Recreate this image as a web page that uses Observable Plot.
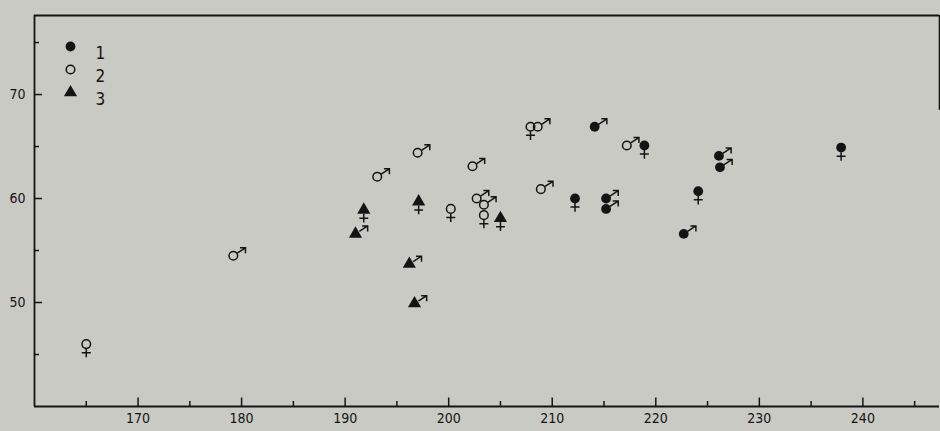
<!DOCTYPE html>
<html>
<head>
<meta charset="utf-8">
<script src="https://cdn.jsdelivr.net/npm/d3@7"></script>
<script src="https://cdn.jsdelivr.net/npm/@observablehq/plot@0.6"></script>
<style>
  html, body { margin: 0; padding: 0; background: #cacac4; overflow: hidden; }
  #chart { width: 940px; height: 431px; }
  #chart svg { font-family: "Liberation Sans Narrow", "DejaVu Sans Condensed", "Roboto Condensed", "Liberation Sans", sans-serif; }
</style>
</head>
<body>
<div id="chart"></div>
<script>
// ---- data ----
// group: 1 = filled circle, 2 = open circle, 3 = filled triangle; sex: "m" ♂ / "f" ♀
const xValues = [165.0, 179.2, 193.1, 197.0, 200.2, 202.3, 202.7, 203.4, 203.4, 207.9, 208.6, 208.9, 217.2,
                 191.8, 191.0, 197.1, 196.2, 196.7, 205.0,
                 214.1, 212.2, 215.2, 215.2, 218.9, 226.1, 226.2, 224.1, 222.7, 237.9];
const yValues = [46.0, 54.5, 62.1, 64.4, 59.0, 63.1, 60.0, 59.4, 58.4, 66.9, 66.9, 60.9, 65.1,
                 58.9, 56.6, 59.7, 53.7, 49.9, 58.1,
                 66.9, 60.0, 60.0, 59.0, 65.1, 64.1, 63.0, 60.7, 56.6, 64.9];
const groups  = [2, 2, 2, 2, 2, 2, 2, 2, 2, 2, 2, 2, 2,
                 3, 3, 3, 3, 3, 3,
                 1, 1, 1, 1, 1, 1, 1, 1, 1, 1];
const sexes   = ["f", "m", "m", "m", "f", "m", "m", "m", "f", "f", "m", "m", "m",
                 "f", "m", "f", "m", "m", "f",
                 "m", "f", "m", "m", "f", "m", "m", "f", "m", "f"];
const legendLabels = ["1", "2", "3"];
const xMajorTicks = [170, 180, 190, 200, 210, 220, 230, 240];
const xMinorTicks = [165, 175, 185, 195, 205, 215, 225, 235, 245];
const yMajorTicks = [50, 60, 70];
const yMinorTicks = [45, 55, 65, 75];
const xDomain = [160, 247.4];
const yDomain = [40, 77.6];

const data = xValues.map((x, i) => ({x, y: yValues[i], group: groups[i], sex: sexes[i]}));

// ---- layout ----
const W = 940, H = 431;
const mL = 34, mR = 1, mT = 15, mB = 25;
const plotW = W - mL - mR, plotH = H - mT - mB;
const ink = "#141414";
const sw = 1.5;

// custom glyph symbols (drawn around the marker center, in pixels)
const maleGlyph = {
  draw(ctx) {
    const a = 33 * Math.PI / 180;
    const c = Math.cos(a), s = Math.sin(a);
    const r0 = 4.6, r1 = 14.5;
    const tx = r1 * c, ty = -r1 * s;
    ctx.moveTo(r0 * c, -r0 * s);
    ctx.lineTo(tx, ty);
    ctx.moveTo(tx - 5.5, ty);
    ctx.lineTo(tx, ty);
    ctx.lineTo(tx, ty + 5.5);
  }
};
const femaleGlyph = {
  draw(ctx) {
    ctx.moveTo(0, 4.6);
    ctx.lineTo(0, 13.2);
    ctx.moveTo(-4.5, 8.6);
    ctx.lineTo(4.5, 8.6);
  }
};
const triGlyphFemale = {
  draw(ctx) {
    ctx.moveTo(0, 3.8);
    ctx.lineTo(0, 12.6);
    ctx.moveTo(-4.4, 8.4);
    ctx.lineTo(4.4, 8.4);
  }
};

function markerMarks(rows) {
  const g1 = rows.filter(d => d.group === 1);
  const g2 = rows.filter(d => d.group === 2);
  const g3 = rows.filter(d => d.group === 3);
  return [
    Plot.dot(g1, {x: "x", y: "y", r: 4.9, fill: ink, stroke: "none"}),
    Plot.dot(g2, {x: "x", y: "y", r: 4.3, fill: "none", stroke: ink, strokeWidth: sw}),
    Plot.dot(g3, {x: "x", y: "y", r: 4.9, symbol: "triangle", fill: ink, stroke: "none"})
  ];
}

const males = data.filter(d => d.sex === "m");
const femalesRound = data.filter(d => d.sex === "f" && d.group !== 3);
const femalesTri = data.filter(d => d.sex === "f" && d.group === 3);

const legendMarks = [];
legendLabels.forEach((lab, i) => {
  const g = +lab;
  const common = {frameAnchor: "top-left", dx: 36, dy: 31 + 23 * i};
  if (g === 1) legendMarks.push(Plot.dot([lab], {...common, r: 4.9, fill: ink, stroke: "none"}));
  if (g === 2) legendMarks.push(Plot.dot([lab], {...common, r: 4.3, fill: "none", stroke: ink, strokeWidth: sw}));
  if (g === 3) legendMarks.push(Plot.dot([lab], {...common, r: 4.9, symbol: "triangle", fill: ink, stroke: "none"}));
  legendMarks.push(Plot.text([lab], {frameAnchor: "top-left", dx: 61, dy: 31 + 23 * i, text: d => d,
    textAnchor: "start", fontSize: 17, fill: ink}));
});

const chart = Plot.plot({
  width: W, height: H,
  marginLeft: mL, marginRight: mR, marginTop: mT, marginBottom: mB,
  style: {background: "#cacac4", color: ink},
  x: {domain: xDomain},
  y: {domain: yDomain},
  marks: [
    // frame lines
    Plot.ruleX([xDomain[0]], {stroke: ink, strokeWidth: 1.8}),
    Plot.ruleY([yDomain[0]], {stroke: ink, strokeWidth: 1.8}),
    Plot.ruleY([yDomain[1]], {stroke: ink, strokeWidth: 1.8}),
    Plot.ruleX([xDomain[1]], {y1: 68.5, y2: yDomain[1], stroke: ink, strokeWidth: 1.6}),
    // inward ticks
    Plot.tickX(xMajorTicks, {x: d => d, insetTop: plotH - 8.5, stroke: ink, strokeWidth: sw}),
    Plot.tickX(xMinorTicks, {x: d => d, insetTop: plotH - 5, stroke: ink, strokeWidth: sw}),
    Plot.tickY(yMajorTicks, {y: d => d, insetRight: plotW - 8, stroke: ink, strokeWidth: sw}),
    Plot.tickY(yMinorTicks, {y: d => d, insetRight: plotW - 5, stroke: ink, strokeWidth: sw}),
    // tick labels
    Plot.axisX({ticks: xMajorTicks, tickSize: 0, tickPadding: 7, fontSize: 14, tickFormat: d => String(d), label: null}),
    Plot.axisY({ticks: yMajorTicks, tickSize: 0, tickPadding: 9, fontSize: 14, tickFormat: d => String(d), label: null}),
    // sex glyphs
    Plot.dot(males, {x: "x", y: "y", symbol: maleGlyph, fill: "none", stroke: ink, strokeWidth: sw}),
    Plot.dot(femalesRound, {x: "x", y: "y", symbol: femaleGlyph, fill: "none", stroke: ink, strokeWidth: sw}),
    Plot.dot(femalesTri, {x: "x", y: "y", symbol: triGlyphFemale, fill: "none", stroke: ink, strokeWidth: sw}),
    // group markers
    ...markerMarks(data),
    // legend
    ...legendMarks
  ]
});
document.getElementById("chart").appendChild(chart);
</script>
</body>
</html>
